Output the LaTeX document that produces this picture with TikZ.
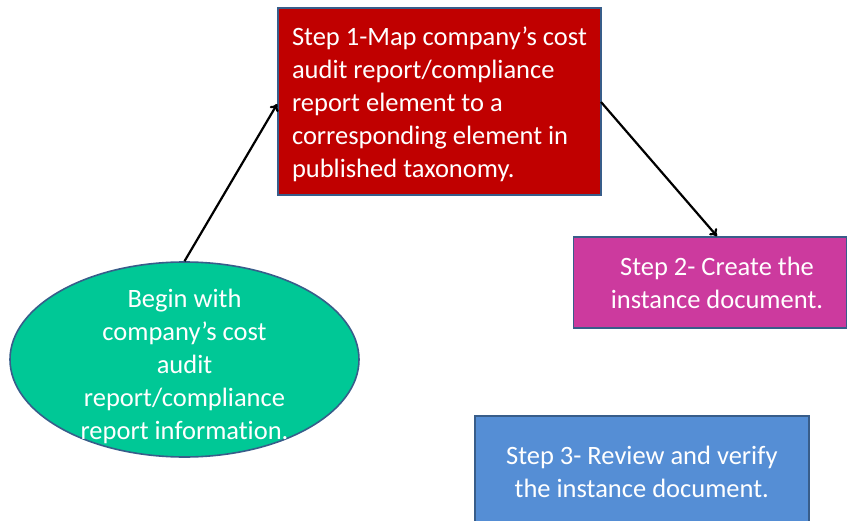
\documentclass[tikz,border=0pt]{standalone}
\usepackage{fontspec}
\setmainfont[Ligatures=NoCommon]{Carlito}
\usetikzlibrary{shapes.geometric,arrows.meta}
\definecolor{boxred}{HTML}{C00000}
\definecolor{boxmag}{HTML}{CC3A9E}
\definecolor{boxblue}{HTML}{558ED5}
\definecolor{ovgreen}{HTML}{00C896}
\definecolor{edgeblue}{HTML}{385D8A}
\tikzset{
  stepbox/.style={rectangle, draw=edgeblue, line width=1.6pt, text=white,
    font=\fontsize{26.5}{33}\selectfont, inner sep=0pt},
  startoval/.style={ellipse, draw=edgeblue, line width=1.6pt, fill=ovgreen,
    text=white, font=\fontsize{26.5}{33}\selectfont, inner sep=-16pt,
    minimum width=349pt, minimum height=195pt, align=center},
  flow/.style={line width=2.2pt, black, -{To[length=7pt,width=10pt]}}
}
\begin{document}
\begin{tikzpicture}[x=1pt,y=-1pt]
\useasboundingbox (0,0) rectangle (848,521);
\clip (0,0) rectangle (848,521);
\node[stepbox, fill=boxred, minimum width=323pt, minimum height=187pt,
  text width=295pt, align=flush left] (s1) at (439.5,101.5)
  {\raisebox{-3pt}[\height][\depth]{\begin{tabular}{@{}l@{}}Step 1-Map company’s cost\\audit report/compliance\\report element to a\\corresponding element in\\published taxonomy.\end{tabular}}};
\node[stepbox, fill=boxmag, minimum width=273pt, minimum height=91pt,
  align=center] (s2) at (710,282.5)
  {\hspace*{14pt}Step 2- Create the\\\hspace*{14pt}instance document.};
\node[stepbox, fill=boxblue, minimum width=334pt, minimum height=112pt,
  align=center, anchor=north west] (s3) at (474,415)
  {Step 3- Review and verify\\the instance document.};
\node[startoval] (start) at (184.5,359.5)
  {\raisebox{-7pt}[\height][\depth]{\begin{tabular}{@{}c@{}}Begin with\\company’s cost\\audit\\report/compliance\\report information.\end{tabular}}};
\draw[flow] (start.north) -- (s1.west |- 0,104);
\coordinate (s1out) at (601,102);
\draw[flow] (s1out) -- (s2.north -| 717,0);
\end{tikzpicture}
\end{document}
